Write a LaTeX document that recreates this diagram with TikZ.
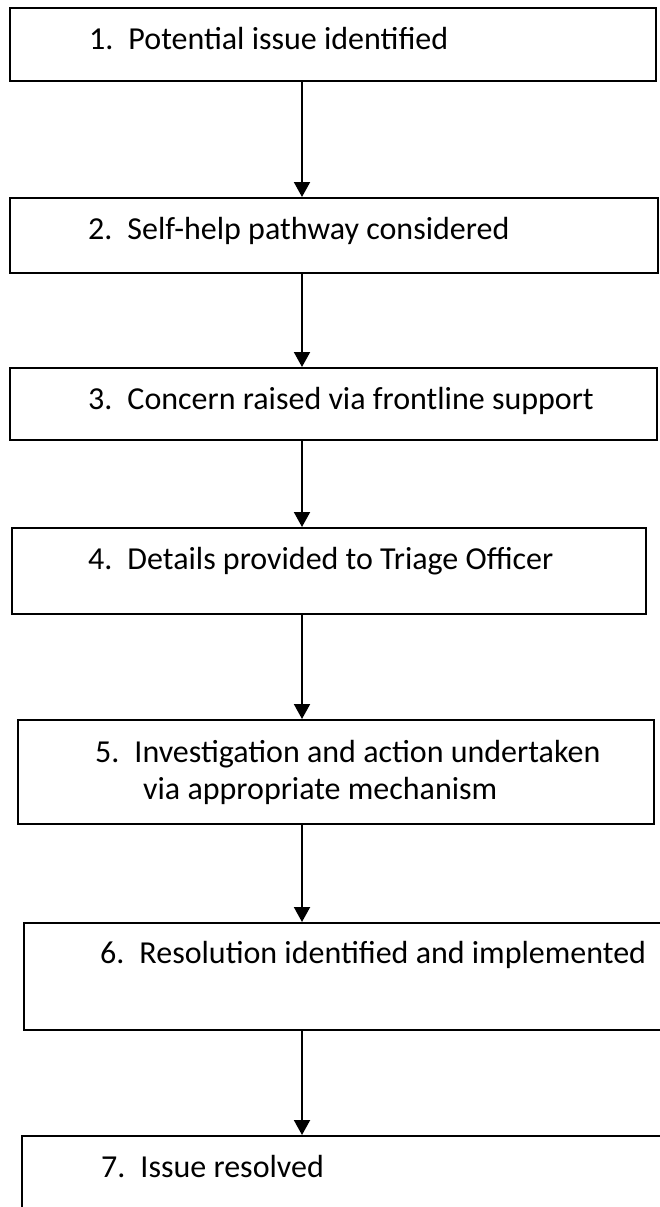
\documentclass[tikz,border=0pt]{standalone}
\usepackage{fontspec}
\setmainfont{Carlito}
\usetikzlibrary{arrows.meta}
\tikzset{
  stepbox/.style={draw, line width=1.6pt, anchor=north west, inner sep=0pt},
  steptext/.style={anchor=base west, inner sep=0pt, align=left, font=\fontsize{32}{37}\selectfont},
  flow/.style={draw, line width=2pt, -{Triangle[width=16pt,length=15pt]}}
}
\begin{document}
\begin{tikzpicture}[x=1pt,y=1pt]
\useasboundingbox (0,0) rectangle (660,-1207);
\clip (0,0) rectangle (660,-1207);

\node[stepbox, minimum width=646pt, minimum height=73pt] (1) at (9,-7) {};
\node[stepbox, minimum width=648pt, minimum height=75pt] (2) at (9,-197) {};
\node[stepbox, minimum width=647pt, minimum height=72pt] (3) at (9,-367) {};
\node[stepbox, minimum width=634pt, minimum height=86pt] (4) at (11,-527) {};
\node[stepbox, minimum width=636pt, minimum height=104pt] (5) at (17,-719) {};
\node[stepbox, minimum width=660pt, minimum height=107pt] (6) at (23,-922) {};
\node[stepbox, minimum width=660pt, minimum height=110pt] (7) at (21,-1135) {};

\node[steptext] (t1) at (89,-49) {1.\hspace{15pt}Potential issue identified};
\node[steptext] (t2) at (88,-239) {2.\hspace{15pt}Self-help pathway considered};
\node[steptext] (t3) at (88,-409) {3.\hspace{15pt}Concern raised via frontline support};
\node[steptext] (t4) at (88,-569) {4.\hspace{15pt}Details provided to Triage Officer};
% base anchor sits on the last line here
\node[steptext] (t5) at (95,-799) {5.\hspace{15pt}Investigation and action undertaken\\
  \hspace{48pt}via appropriate mechanism};
\node[steptext] (t6) at (100,-963) {6.\hspace{15pt}Resolution identified and implemented};
\node[steptext] (t7) at (101,-1177) {7.\hspace{15pt}Issue resolved};

\coordinate (spine) at (302,0);
\path[flow] (spine |- 1.south) -- (spine |- 2.north);
\path[flow] (spine |- 2.south) -- (spine |- 3.north);
\path[flow] (spine |- 3.south) -- (spine |- 4.north);
\path[flow] (spine |- 4.south) -- (spine |- 5.north);
\path[flow] (spine |- 5.south) -- (spine |- 6.north);
\path[flow] (spine |- 6.south) -- (spine |- 7.north);
\end{tikzpicture}
\end{document}
